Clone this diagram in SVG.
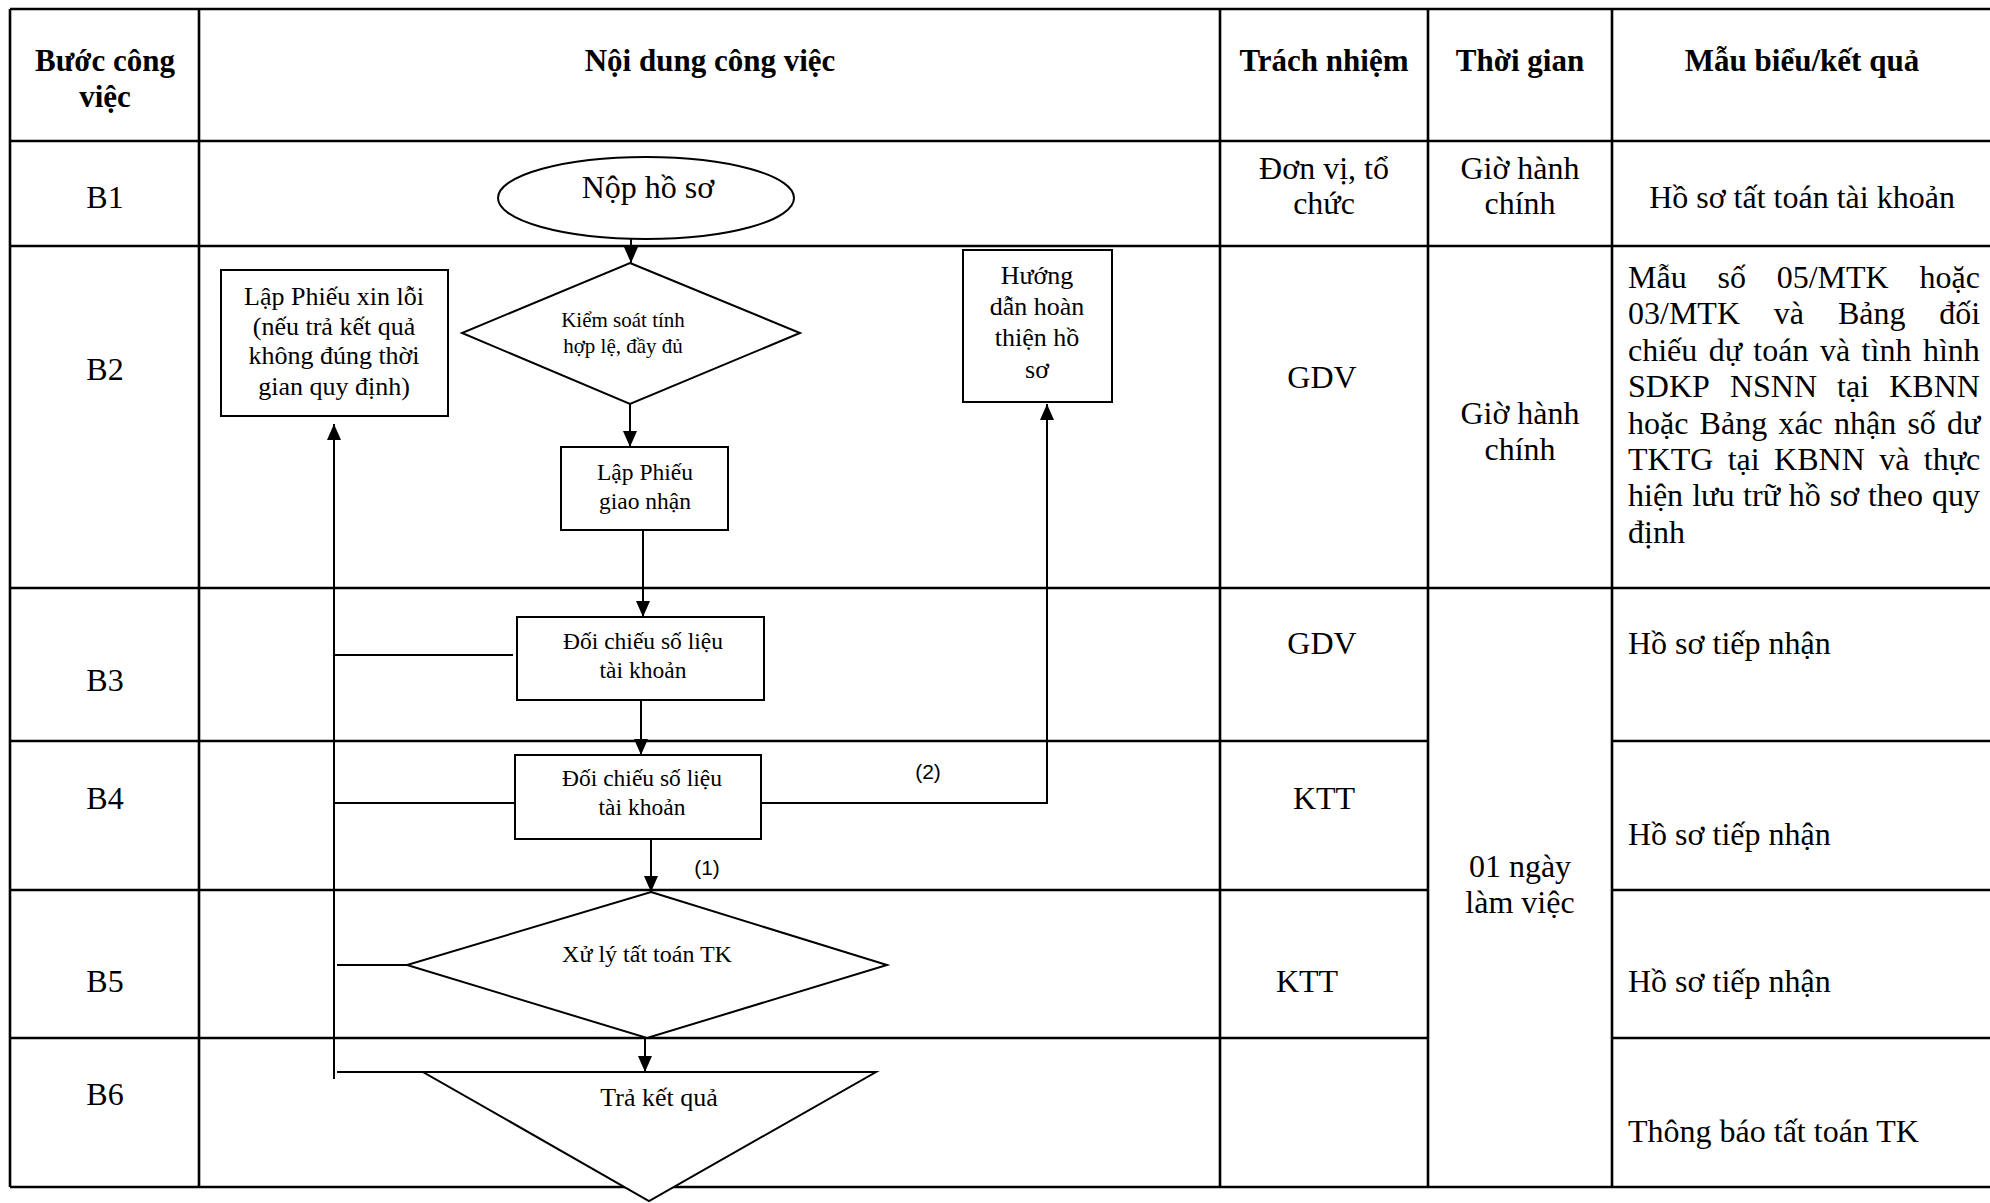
<svg xmlns="http://www.w3.org/2000/svg" width="1990" height="1203" viewBox="0 0 1990 1203">
<style>
  .grid { stroke: #000; stroke-width: 2.6; fill: none; }
  .shape { stroke: #000; stroke-width: 2; fill: #fff; }
  .conn { stroke: #000; stroke-width: 2; fill: none; }
  .t { font-family: "Liberation Serif", "Times New Roman", serif; fill: #000; }
  .hd { font-family: "Liberation Serif", "Times New Roman", serif; font-weight: bold; font-size: 31px; fill: #000; text-anchor: middle; }
  .cell { font-size: 32px; }
  .mid { text-anchor: middle; }
  .lbl { font-family: "Liberation Sans", Arial, sans-serif; font-size: 21px; fill: #000; text-anchor: middle; }
</style>
<defs>
  <marker id="arr" markerUnits="userSpaceOnUse" markerWidth="16" markerHeight="14" refX="16" refY="7" orient="auto">
    <path d="M0,0 L16,7 L0,14 z" fill="#000"/>
  </marker>
</defs>
<rect width="1990" height="1203" fill="#fff"/>

<g id="table">
  <line class="grid" x1="10" y1="9" x2="1990" y2="9"/>
  <line class="grid" x1="10" y1="141" x2="1990" y2="141"/>
  <line class="grid" x1="10" y1="246" x2="1990" y2="246"/>
  <line class="grid" x1="10" y1="588" x2="1990" y2="588"/>
  <line class="grid" x1="10" y1="741" x2="1428" y2="741"/>
  <line class="grid" x1="1612" y1="741" x2="1990" y2="741"/>
  <line class="grid" x1="10" y1="890" x2="1428" y2="890"/>
  <line class="grid" x1="1612" y1="890" x2="1990" y2="890"/>
  <line class="grid" x1="10" y1="1038" x2="1428" y2="1038"/>
  <line class="grid" x1="1612" y1="1038" x2="1990" y2="1038"/>
  <line class="grid" x1="10" y1="1187" x2="1990" y2="1187"/>
  <line class="grid" x1="10" y1="9" x2="10" y2="1187"/>
  <line class="grid" x1="199" y1="9" x2="199" y2="1187"/>
  <line class="grid" x1="1220" y1="9" x2="1220" y2="1187"/>
  <line class="grid" x1="1428" y1="9" x2="1428" y2="1187"/>
  <line class="grid" x1="1612" y1="9" x2="1612" y2="1187"/>
</g>

<g id="headers">
  <text class="hd" x="105" y="71">Bước công</text>
  <text class="hd" x="105" y="107">việc</text>
  <text class="hd" x="710" y="71">Nội dung công việc</text>
  <text class="hd" x="1324" y="71">Trách nhiệm</text>
  <text class="hd" x="1520" y="71">Thời gian</text>
  <text class="hd" x="1802" y="71">Mẫu biểu/kết quả</text>
</g>

<g id="step-labels" class="t cell mid">
  <text x="105" y="208">B1</text>
  <text x="105" y="380">B2</text>
  <text x="105" y="691">B3</text>
  <text x="105" y="809">B4</text>
  <text x="105" y="992">B5</text>
  <text x="105" y="1105">B6</text>
</g>

<g id="responsibility" class="t cell mid">
  <text x="1324" y="179">Đơn vị, tổ</text>
  <text x="1324" y="214">chức</text>
  <text x="1322" y="388">GDV</text>
  <text x="1322" y="654">GDV</text>
  <text x="1324" y="809">KTT</text>
  <text x="1307" y="992">KTT</text>
</g>

<g id="time" class="t cell mid">
  <text x="1520" y="179">Giờ hành</text>
  <text x="1520" y="214">chính</text>
  <text x="1520" y="424">Giờ hành</text>
  <text x="1520" y="460">chính</text>
  <text x="1520" y="877">01 ngày</text>
  <text x="1520" y="913">làm việc</text>
</g>

<g id="results" class="t cell">
  <text x="1802" y="208" class="mid">Hồ sơ tất toán tài khoản</text>
  <text y="288"><tspan x="1628">Mẫu</tspan><tspan x="1717.5">số</tspan><tspan x="1776.7">05/MTK</tspan><tspan x="1919.5">hoặc</tspan></text>
  <text y="324"><tspan x="1628">03/MTK</tspan><tspan x="1773.8">và</tspan><tspan x="1838">Bảng</tspan><tspan x="1939.2">đối</tspan></text>
  <text y="361"><tspan x="1628">chiếu</tspan><tspan x="1708.8">dự</tspan><tspan x="1753.3">toán</tspan><tspan x="1819.9">và</tspan><tspan x="1861.6">tình</tspan><tspan x="1922.9">hình</tspan></text>
  <text y="397"><tspan x="1628">SDKP</tspan><tspan x="1729.9">NSNN</tspan><tspan x="1837.1">tại</tspan><tspan x="1889.2">KBNN</tspan></text>
  <text y="434"><tspan x="1628">hoặc</tspan><tspan x="1699.6">Bảng</tspan><tspan x="1778.4">xác</tspan><tspan x="1834">nhận</tspan><tspan x="1907.4">số</tspan><tspan x="1947.1">dư</tspan></text>
  <text y="470"><tspan x="1628">TKTG</tspan><tspan x="1727.7">tại</tspan><tspan x="1774.1">KBNN</tspan><tspan x="1879.2">và</tspan><tspan x="1923.8">thực</tspan></text>
  <text y="506"><tspan x="1628">hiện</tspan><tspan x="1692.2">lưu</tspan><tspan x="1743.1">trữ</tspan><tspan x="1788.7">hồ</tspan><tspan x="1829.7">sơ</tspan><tspan x="1867.9">theo</tspan><tspan x="1932">quy</tspan></text>
  <text x="1628" y="543">định</text>
  <text x="1628" y="654">Hồ sơ tiếp nhận</text>
  <text x="1628" y="845">Hồ sơ tiếp nhận</text>
  <text x="1628" y="992">Hồ sơ tiếp nhận</text>
  <text x="1628" y="1142">Thông báo tất toán TK</text>
</g>

<g id="connectors">
  <line class="conn" x1="631" y1="239" x2="631" y2="263" marker-end="url(#arr)"/>
  <line class="conn" x1="630" y1="404" x2="630" y2="447" marker-end="url(#arr)"/>
  <line class="conn" x1="643" y1="530" x2="643" y2="617" marker-end="url(#arr)"/>
  <line class="conn" x1="641" y1="700" x2="641" y2="755" marker-end="url(#arr)"/>
  <line class="conn" x1="651" y1="839" x2="651" y2="892" marker-end="url(#arr)"/>
  <line class="conn" x1="645" y1="1038" x2="645" y2="1072" marker-end="url(#arr)"/>
  <line class="conn" x1="334" y1="1079" x2="334" y2="424" marker-end="url(#arr)"/>
  <line class="conn" x1="334" y1="655" x2="513" y2="655"/>
  <line class="conn" x1="334" y1="803" x2="515" y2="803"/>
  <line class="conn" x1="337" y1="965" x2="407" y2="965"/>
  <line class="conn" x1="337" y1="1072" x2="423" y2="1072"/>
  <polyline class="conn" points="761,803 1047,803 1047,404" marker-end="url(#arr)"/>
  <text class="lbl" x="928" y="779">(2)</text>
  <text class="lbl" x="707" y="875">(1)</text>
</g>

<g id="node-nop-ho-so">
  <ellipse class="shape" cx="646" cy="198" rx="148" ry="41"/>
  <text class="t mid" x="648" y="198" font-size="32">Nộp hồ sơ</text>
</g>

<g id="node-kiem-soat">
  <polygon class="shape" points="630,263 800,333 630,404 462,333"/>
  <text class="t mid" x="623" y="327" font-size="21">Kiểm soát tính</text>
  <text class="t mid" x="623" y="353" font-size="21">hợp lệ, đầy đủ</text>
</g>

<g id="node-phieu-xin-loi">
  <rect class="shape" x="221" y="270" width="227" height="146"/>
  <text class="t mid" x="334" y="305" font-size="26">Lập Phiếu xin lỗi</text>
  <text class="t mid" x="334" y="335" font-size="26">(nếu trả kết quả</text>
  <text class="t mid" x="334" y="364" font-size="26">không đúng thời</text>
  <text class="t mid" x="334" y="395" font-size="26">gian quy định)</text>
</g>

<g id="node-huong-dan">
  <rect class="shape" x="963" y="250" width="149" height="152"/>
  <text class="t mid" x="1037" y="284" font-size="26">Hướng</text>
  <text class="t mid" x="1037" y="315" font-size="26">dẫn hoàn</text>
  <text class="t mid" x="1037" y="346" font-size="26">thiện hồ</text>
  <text class="t mid" x="1037" y="378" font-size="26">sơ</text>
</g>

<g id="node-phieu-giao-nhan">
  <rect class="shape" x="561" y="447" width="167" height="83"/>
  <text class="t mid" x="645" y="480" font-size="23.5">Lập Phiếu</text>
  <text class="t mid" x="645" y="509" font-size="23.5">giao nhận</text>
</g>

<g id="node-doi-chieu-1">
  <rect class="shape" x="517" y="617" width="247" height="83"/>
  <text class="t mid" x="643" y="649" font-size="23.5">Đối chiếu số liệu</text>
  <text class="t mid" x="643" y="678" font-size="23.5">tài khoản</text>
</g>

<g id="node-doi-chieu-2">
  <rect class="shape" x="515" y="755" width="246" height="84"/>
  <text class="t mid" x="642" y="786" font-size="23.5">Đối chiếu số liệu</text>
  <text class="t mid" x="642" y="815" font-size="23.5">tài khoản</text>
</g>

<g id="node-xu-ly">
  <polygon class="shape" points="651,892 887,965 647,1038 407,965"/>
  <text class="t mid" x="647" y="962" font-size="24">Xử lý tất toán TK</text>
</g>

<g id="node-tra-ket-qua">
  <polygon class="shape" points="423,1072 876,1072 649,1201"/>
  <text class="t mid" x="659" y="1106" font-size="26">Trả kết quả</text>
</g>
</svg>
